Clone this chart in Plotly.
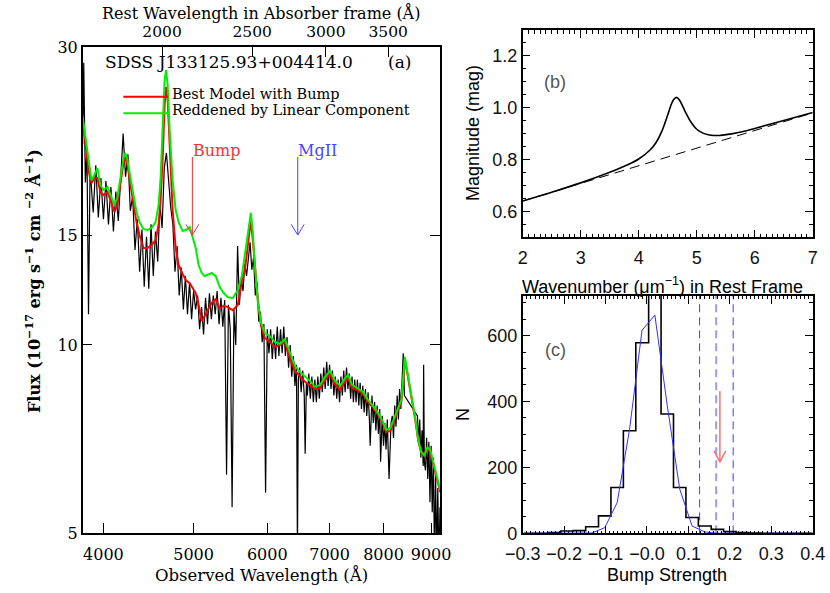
import math
import plotly.graph_objects as go

W, H = 830, 593
SERIF = "DejaVu Serif"
SANS = "Liberation Sans"

# ---------------- Panel (a): spectrum ----------------
spec_wave = [3800, 3810, 3825, 3840, 3855, 3870, 3900, 3925, 3950, 3975,
             4000, 4025, 4050, 4075, 4100, 4125, 4150, 4175, 4200, 4225,
             4250, 4275, 4300, 4325, 4350, 4375, 4400, 4425, 4450, 4475,
             4500, 4525, 4550, 4575, 4600, 4625, 4650, 4675, 4700, 4725,
             4750, 4775, 4800, 4825, 4850, 4875, 4900, 4925, 4950, 4975,
             5000, 5025, 5050, 5075, 5100, 5125, 5150, 5175, 5200, 5225,
             5250, 5275, 5300, 5325, 5350, 5375, 5400, 5425, 5450, 5475,
             5500, 5525, 5550, 5575, 5600, 5625, 5650, 5675, 5700, 5725,
             5750, 5775, 5800, 5825, 5850, 5875, 5900, 5925, 5950, 5975,
             6000, 6025, 6050, 6075, 6100, 6125, 6150, 6175, 6200, 6225,
             6250, 6275, 6300, 6325, 6350, 6375, 6400, 6425, 6450, 6465,
             6480, 6500, 6525, 6550, 6575, 6590, 6610, 6625, 6650, 6675,
             6700, 6725, 6750, 6775, 6800, 6825, 6850, 6875, 6900, 6925,
             6950, 6975, 7000, 7025, 7050, 7075, 7100, 7125, 7150, 7175,
             7200, 7225, 7250, 7275, 7300, 7325, 7350, 7375, 7400, 7425,
             7450, 7475, 7500, 7525, 7550, 7575, 7600, 7625, 7650, 7675,
             7700, 7725, 7740, 7775, 7800, 7825, 7850, 7875, 7900, 7925,
             7942, 7975, 8000, 8025, 8050, 8075, 8100, 8110, 8150, 8175,
             8200, 8225, 8250, 8275, 8300, 8325, 8350, 8375, 8400, 8425,
             8700, 8725, 8750, 8775, 8800, 8825, 8835, 8850, 8875, 8900,
             8925, 8950, 8975, 9000, 9025, 9050, 9075, 9100, 9125, 9150,
             9175, 9200]
spec_flux = [21.0, 28.3, 18.2, 20.6, 11.2, 19.2, 16.3, 19.4, 16.0, 18.5,
             15.9, 18.3, 15.6, 17.9, 15.2, 17.6, 15.8, 18.9, 21.8, 18.6,
             20.2, 16.4, 17.3, 14.2, 15.9, 13.1, 15.3, 12.4, 14.9, 12.3,
             15.6, 12.9, 15.2, 13.6, 16.8, 15.4, 19.2, 20.3, 18.0, 16.6,
             15.6, 13.1, 14.4, 12.0, 13.3, 11.4, 12.9, 11.2, 12.6, 11.0,
             12.2, 11.4, 12.0, 10.6, 11.5, 10.4, 11.9, 10.8, 12.1, 11.0,
             12.0, 11.2, 12.2, 10.8, 11.9, 10.7, 11.8, 6.2, 11.6, 10.6,
             5.5, 11.4, 10.0, 14.4, 11.6, 12.8, 12.2, 13.5, 12.9, 13.8,
             14.6, 13.2, 13.8, 12.0, 12.6, 10.9, 11.3, 10.1, 10.8, 5.8,
             10.6, 9.7, 10.6, 9.5, 10.4, 9.5, 10.7, 9.6, 10.6, 9.7,
             10.7, 9.6, 10.3, 9.2, 10.0, 8.9, 9.6, 8.6, 9.3, 4.6,
             8.8, 9.2, 8.4, 9.1, 8.3, 6.7, 8.7, 8.3, 9.0, 8.2,
             8.9, 8.1, 8.8, 8.1, 8.9, 8.2, 9.0, 8.4, 9.2, 8.5,
             9.4, 8.6, 9.3, 8.5, 9.1, 8.3, 8.9, 8.2, 8.8, 8.1,
             8.9, 8.3, 9.1, 8.4, 9.2, 8.5, 9.0, 8.2, 8.9, 8.1,
             8.8, 8.1, 8.8, 8.0, 8.7, 7.9, 8.6, 7.8, 8.5, 7.7,
             8.4, 7.6, 6.9, 8.3, 7.5, 8.1, 7.3, 8.0, 7.2, 7.9,
             6.5, 7.7, 6.9, 7.5, 6.8, 7.6, 6.8, 6.1, 7.5, 7.7,
             7.1, 8.0, 7.4, 8.3, 7.6, 8.5, 7.9, 9.1, 9.7, 8.3,
             7.7, 7.0, 7.6, 6.6, 7.3, 6.4, 9.3, 6.5, 6.3, 7.1,
             6.1, 7.0, 5.6, 6.9, 5.4, 6.6, 4.6, 6.2, 4.5, 5.9,
             4.4, 5.5]

model_wave = [3800, 3825, 3854, 3883, 3912, 3941, 3970, 4000, 4040, 4070,
              4111, 4141, 4172, 4204, 4224, 4245, 4277, 4309, 4341, 4374,
              4417, 4461, 4506, 4551, 4585, 4608, 4631, 4654, 4671, 4689,
              4712, 4747, 4783, 4818, 4866, 4903, 4952, 4988, 5026, 5063,
              5101, 5139, 5178, 5229, 5282, 5334, 5387, 5441, 5509, 5578,
              5634, 5676, 5704, 5732, 5761, 5789, 5818, 5862, 5906, 5964,
              6039, 6114, 6191, 6268, 6346, 6425, 6506, 6587, 6669, 6752,
              6837, 6922, 7008, 7096, 7184, 7274, 7329, 7402, 7494, 7606,
              7701, 7798, 7895, 7974, 8053, 8134, 8215, 8297, 8359, 8400,
              8432, 8463, 8526, 8590, 8654, 8719, 8784, 8850, 8916, 8983,
              9050, 9117, 9208]
model_bump_flux = [23.09, 21.29, 19.06, 18.17, 18.51, 18.51, 17.58, 17.38, 17.58, 17.07,
                   16.33, 16.75, 18.04, 19.63, 20.00, 19.42, 18.04, 16.75, 15.73, 15.00,
                   14.30, 14.30, 14.46, 14.72, 15.56, 17.07, 19.78, 24.22, 25.89, 24.67,
                   20.52, 16.45, 14.30, 13.43, 12.99, 12.71, 12.56, 12.33, 12.11, 11.59,
                   10.92, 11.13, 11.37, 11.68, 11.84, 11.45, 11.55, 11.50, 11.37, 11.59,
                   12.62, 13.18, 13.98, 14.89, 15.85, 14.72, 13.43, 11.80, 10.76, 10.26,
                   10.11, 9.93, 10.00, 10.11, 9.53, 9.09, 8.92, 8.73, 8.63, 8.50,
                   8.53, 8.79, 8.99, 8.66, 8.47, 8.76, 8.85, 8.53, 8.47, 8.35,
                   8.10, 7.93, 7.73, 7.53, 7.26, 7.28, 7.58, 7.87, 8.10, 8.63,
                   9.46, 9.22, 8.63, 8.16, 7.58, 7.02, 6.71, 6.64, 6.81, 6.74,
                   6.47, 6.15, 5.81]
model_linear_flux = [23.18, 21.69, 19.78, 18.37, 18.71, 19.20, 18.04, 17.71, 17.91, 17.38,
                     16.75, 17.25, 18.51, 19.93, 20.30, 19.78, 18.51, 17.32, 16.33, 15.73,
                     15.34, 15.28, 15.39, 15.73, 16.75, 18.51, 22.09, 26.56, 27.56, 26.08,
                     22.09, 18.37, 16.45, 15.73, 15.22, 15.28, 15.45, 14.83, 14.30, 13.43,
                     13.04, 12.89, 12.94, 13.04, 12.89, 12.38, 12.11, 11.93, 11.89, 12.25,
                     12.89, 13.93, 14.83, 15.73, 16.27, 15.17, 13.43, 11.71, 10.88, 10.45,
                     10.33, 10.11, 10.04, 10.22, 9.71, 9.26, 9.05, 8.89, 8.76, 8.57,
                     8.63, 8.89, 9.09, 8.76, 8.60, 8.85, 8.95, 8.63, 8.53, 8.41,
                     8.16, 7.99, 7.78, 7.58, 7.31, 7.36, 7.64, 7.93, 8.16, 8.85,
                     9.57, 9.29, 8.69, 8.22, 7.64, 7.04, 6.74, 6.66, 6.86, 6.79,
                     6.50, 6.17, 5.86]

obs_ticks = [4000, 5000, 6000, 7000, 8000, 9000]
flux_ticks = [5, 10, 15, 30]
rest_ticks = [2000, 2500, 3000, 3500]
one_plus_z_abs = 2.312
line_marks = ["Bump", "MgII"]
line_mark_wave = [4985, 6470]
line_mark_color = ["#ff3030", "#4646ff"]
arrow_tail_flux, arrow_tip_flux, arrow_wing_flux = 20.0, 15.0, 15.6

# ---------------- Panel (b): extinction curve ----------------
wavenumber = [2.0, 2.5, 3.0, 3.5, 3.8, 4.0, 4.2, 4.3, 4.4, 4.5, 4.55, 4.6, 4.65, 4.7,
              4.75, 4.8, 4.9, 5.0, 5.1, 5.2, 5.3, 5.4, 5.6, 5.8, 6.0, 6.5, 7.0]
mag_bump = [0.640, 0.674, 0.710, 0.751, 0.779, 0.802, 0.838, 0.866, 0.910, 0.972, 1.006,
            1.031, 1.040, 1.031, 1.010, 0.986, 0.945, 0.917, 0.903, 0.896, 0.893, 0.893,
            0.899, 0.908, 0.920, 0.951, 0.982]
linear_wavenumber = [2.0, 7.0]
mag_linear = [0.640, 0.980]

# ---------------- Panel (c): bump strength histogram ----------------
hist_edges = [-0.298, -0.268, -0.238, -0.208, -0.178, -0.148, -0.117, -0.087, -0.057,
              -0.027, 0.004, 0.034, 0.064, 0.094, 0.124, 0.155, 0.185, 0.215, 0.245,
              0.275, 0.306, 0.336, 0.366, 0.396, 0.426]
hist_counts = [0, 0, 2, 7, 8, 20, 53, 139, 311, 578, 760, 362, 139, 48, 22, 12, 5, 2, 1,
               0, 0, 0, 0, 0]
fit_x = [-0.283, -0.253, -0.223, -0.193, -0.163, -0.133, -0.102, -0.072, -0.042, -0.012,
         0.019, 0.049, 0.079, 0.109, 0.140, 0.170, 0.200, 0.230, 0.260, 0.291, 0.321,
         0.351, 0.381, 0.411]
fit_y = [0, 0, 0, 0, 0, 1, 17, 93, 316, 616, 662, 387, 134, 22, 4, 0, 0, 0, 0, 0, 0, 0, 0, 0]
sig_levels = [0.127, 0.167, 0.208]
measured_bump = 0.176
measured_arrow_top, measured_arrow_tip, measured_arrow_wing = 432, 216, 250


def px(x):
    return x / W


def py(y):
    return 1 - y / H


fig = go.Figure()

# panel (a)
fig.add_trace(go.Scatter(x=spec_wave, y=spec_flux, mode="lines", connectgaps=True,
                         line=dict(color="black", width=1.2), xaxis="x", yaxis="y",
                         hoverinfo="skip", showlegend=False))
fig.add_trace(go.Scatter(x=model_wave, y=model_bump_flux, mode="lines",
                         line=dict(color="#ff0000", width=2), xaxis="x", yaxis="y",
                         hoverinfo="skip", showlegend=False))
fig.add_trace(go.Scatter(x=model_wave, y=model_linear_flux, mode="lines",
                         line=dict(color="#00ee00", width=2), xaxis="x", yaxis="y",
                         hoverinfo="skip", showlegend=False))
fig.add_trace(go.Scatter(x=model_wave, y=model_linear_flux, mode="lines", opacity=0,
                         line=dict(width=0), xaxis="x4", yaxis="y",
                         hoverinfo="skip", showlegend=False))
for w, c in zip(line_mark_wave, line_mark_color):
    fig.add_trace(go.Scatter(x=[w, w, None, w * 0.984, w, w * 1.016],
                             y=[arrow_tail_flux, arrow_tip_flux, None, arrow_wing_flux,
                                arrow_tip_flux, arrow_wing_flux],
                             mode="lines", line=dict(color=c, width=1), xaxis="x", yaxis="y",
                             hoverinfo="skip", showlegend=False))

# panel (b)
fig.add_trace(go.Scatter(x=linear_wavenumber, y=mag_linear, mode="lines",
                         line=dict(color="black", width=1, dash="10px,6px"),
                         xaxis="x2", yaxis="y2", hoverinfo="skip", showlegend=False))
fig.add_trace(go.Scatter(x=wavenumber, y=mag_bump, mode="lines", line_shape="spline",
                         line=dict(color="black", width=1.6),
                         xaxis="x2", yaxis="y2", hoverinfo="skip", showlegend=False))

# panel (c)
for i, s in enumerate(sig_levels):
    mid = i == 1
    fig.add_trace(go.Scatter(x=[s, s], y=[0, 720], mode="lines",
                             line=dict(color="#9a9aff" if mid else "#3c3cff",
                                       width=2 if mid else 1, dash="8px,5px"),
                             xaxis="x3", yaxis="y3", hoverinfo="skip", showlegend=False))
fig.add_trace(go.Scatter(x=hist_edges, y=hist_counts + [hist_counts[-1]], mode="lines",
                         line=dict(color="black", width=1.6, shape="hv"),
                         xaxis="x3", yaxis="y3", hoverinfo="skip", showlegend=False))
fig.add_trace(go.Scatter(x=fit_x, y=fit_y, mode="lines", line=dict(color="#3030ff", width=1),
                         xaxis="x3", yaxis="y3", hoverinfo="skip", showlegend=False))
fig.add_trace(go.Scatter(x=[measured_bump, measured_bump, None, measured_bump - 0.014,
                            measured_bump, measured_bump + 0.014],
                         y=[measured_arrow_top, measured_arrow_tip, None, measured_arrow_wing,
                            measured_arrow_tip, measured_arrow_wing],
                         mode="lines", line=dict(color="#ff7070", width=1.5),
                         xaxis="x3", yaxis="y3", hoverinfo="skip", showlegend=False))

base = dict(showgrid=False, zeroline=False, showline=True, linecolor="black", linewidth=1.5,
            ticks="inside", tickcolor="black", tickwidth=1, automargin=False)
serif_tick = dict(family=SERIF, size=16, color="black")
sans_tick = dict(family=SANS, size=18, color="#111111")

fig.update_layout(
    width=W, height=H, margin=dict(l=0, r=0, t=0, b=0),
    paper_bgcolor="white", plot_bgcolor="white", showlegend=False,
    xaxis=dict(base, domain=[px(82.7), px(440)], anchor="y", type="log",
               range=[math.log10(3800), math.log10(9200)], tickmode="array",
               tickvals=obs_ticks, ticktext=[str(t) for t in obs_ticks], ticklen=10,
               mirror=False, tickfont=serif_tick, ticklabelstandoff=6),
    xaxis4=dict(base, overlaying="x", anchor="y", side="top", type="log",
                range=[math.log10(3800), math.log10(9200)], tickmode="array",
                tickvals=[r * one_plus_z_abs for r in rest_ticks],
                ticktext=[str(r) for r in rest_ticks], ticklen=10,
                tickfont=dict(family=SERIF, size=15.5, color="black"), ticklabelstandoff=2),
    yaxis=dict(base, domain=[py(533), py(47)], anchor="x", type="log",
               range=[math.log10(5), math.log10(30)], tickmode="array",
               tickvals=flux_ticks, ticktext=[str(t) for t in flux_ticks], ticklen=10,
               mirror="ticks", tickfont=serif_tick),
    xaxis2=dict(base, domain=[px(522.7), px(812.7)], anchor="y2", range=[2, 7],
                tick0=2, dtick=1, ticklen=8, mirror="ticks", tickfont=sans_tick,
                ticklabelstandoff=3,
                minor=dict(ticks="inside", ticklen=4, tick0=2, dtick=0.1, tickcolor="black")),
    yaxis2=dict(base, domain=[py(237.3), py(30)], anchor="x2", range=[0.5, 1.3],
                tick0=0.6, dtick=0.2, tickformat=".1f", ticklen=8, mirror="ticks",
                tickfont=sans_tick,
                minor=dict(ticks="inside", ticklen=4, tick0=0.5, dtick=0.05, tickcolor="black")),
    xaxis3=dict(base, domain=[px(522.7), px(812.7)], anchor="y3", range=[-0.3, 0.4],
                tickmode="array", tickvals=[-0.3, -0.2, -0.1, 0.0, 0.1, 0.2, 0.3, 0.4],
                ticktext=["\u22120.3", "\u22120.2", "\u22120.1", "\u22120.0", "0.1", "0.2",
                          "0.3", "0.4"], ticklen=8, mirror="ticks", tickfont=sans_tick,
                ticklabelstandoff=3,
                minor=dict(ticks="inside", ticklen=3, tickmode="linear", tick0=-0.3,
                           dtick=0.01, tickcolor="black")),
    yaxis3=dict(base, domain=[py(533.3), py(296)], anchor="x3", range=[0, 720],
                tick0=0, dtick=200, ticklen=8, mirror="ticks", tickfont=sans_tick,
                minor=dict(ticks="inside", ticklen=4, tick0=0, dtick=50, tickcolor="black")),
)

ann = []


def text(x, y, s, size, family, color="black", anchor="center", angle=0):
    ann.append(dict(x=px(x), y=py(y), xref="paper", yref="paper", text=s, showarrow=False,
                    xanchor=anchor, yanchor="middle", textangle=angle,
                    font=dict(family=family, size=size, color=color)))


text(260.5, 13, "Rest Wavelength in Absorber frame (Å)", 16, SERIF)
text(261, 575, "Observed Wavelength (Å)", 16.5, SERIF)
text(33, 281, "<b>Flux (10<sup>−17</sup> erg s<sup>−1</sup> cm <sup>−2</sup> Å<sup>−1</sup>)</b>",
     16, SERIF, angle=-90)
text(103, 62, "SDSS J133125.93+004414.0", 17, SERIF, anchor="left")
text(386, 62, "(a)", 17, SERIF, anchor="left")
text(170, 94, "Best Model with Bump", 14.5, SERIF, anchor="left")
text(170, 110, "Reddened by Linear Component", 14.5, SERIF, anchor="left")
text(191, 151, line_marks[0], 16, SERIF, color=line_mark_color[0], anchor="left")
text(296, 151, line_marks[1], 16, SERIF, color=line_mark_color[1], anchor="left")
text(662.5, 285, "Wavenumber (μm<sup>−1</sup>) in Rest Frame", 18, SANS)
text(473, 133, "Magnitude (mag)", 18, SANS, angle=-90)
text(542, 82, "(b)", 18, SANS, color="#555555", anchor="left")
text(667, 575, "Bump Strength", 18, SANS)
text(463, 415, "N", 18, SANS, angle=-90)
text(543, 350, "(c)", 18, SANS, color="#555555", anchor="left")
fig.update_layout(annotations=ann)

fig.update_layout(shapes=[
    dict(type="line", xref="paper", yref="paper", x0=px(123.3), x1=px(168.3),
         y0=py(96.7), y1=py(96.7), line=dict(color="#ff0000", width=2)),
    dict(type="line", xref="paper", yref="paper", x0=px(123.3), x1=px(168.3),
         y0=py(113.3), y1=py(113.3), line=dict(color="#00ee00", width=2)),
])

fig.write_html("out.html", config={"displayModeBar": False},
               post_script="document.body.style.margin='0px';document.body.style.overflow='hidden';")
